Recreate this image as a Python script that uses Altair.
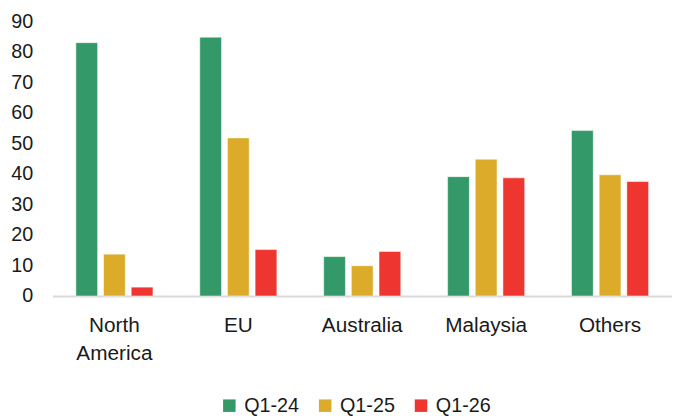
import altair as alt
import pandas as pd

regions = ["North America", "EU", "Australia", "Malaysia", "Others"]
series = ["Q1-24", "Q1-25", "Q1-26"]
q1_24 = [83.0, 84.8, 12.9, 39.1, 54.2]
q1_25 = [13.7, 51.8, 9.9, 44.8, 39.7]
q1_26 = [2.9, 15.2, 14.6, 38.7, 37.5]
colors = ["#349968", "#DBAB29", "#EE3530"]
y_ticks = [0, 10, 20, 30, 40, 50, 60, 70, 80, 90]

rows = []
for vals, s in zip([q1_24, q1_25, q1_26], series):
    for r, v in zip(regions, vals):
        rows.append({"Region": r, "Series": s, "Value": v})
df = pd.DataFrame(rows)

FONT = "Liberation Sans"

chart = alt.Chart(df).mark_bar(
    stroke="white", strokeWidth=1, strokeOpacity=0.5
).encode(
    x=alt.X("Region:N", sort=regions, title=None,
            scale=alt.Scale(paddingInner=0, paddingOuter=0),
            axis=alt.Axis(labelAngle=0, ticks=False, domainColor="#d9d9d9",
                          domainWidth=2, labelFontSize=21, labelFont=FONT,
                          labelColor="#1a1a1a", labelPadding=19,
                          labelLineHeight=28,
                          labelExpr="split(datum.label, ' ')")),
    xOffset=alt.XOffset("Series:N", sort=series,
                        scale=alt.Scale(paddingInner=0.214, paddingOuter=0.846)),
    y=alt.Y("Value:Q", title=None,
            scale=alt.Scale(domain=[0, 90], nice=False),
            axis=alt.Axis(values=y_ticks, ticks=False, domain=False, grid=False,
                          labelFontSize=20, labelFont=FONT, labelColor="#1a1a1a",
                          labelPadding=20)),
    color=alt.Color("Series:N", sort=series,
                    scale=alt.Scale(domain=series, range=colors),
                    legend=alt.Legend(title=None, orient="none", direction="horizontal",
                                      legendX=169, legendY=379, padding=0,
                                      symbolType="square", symbolSize=160,
                                      symbolStrokeWidth=0, labelFontSize=20,
                                      labelFont=FONT, labelColor="#1a1a1a",
                                      labelOffset=5, columnPadding=16)),
).properties(
    width=627, height=278,
    autosize=alt.AutoSizeParams(type="none"),
    padding={"left": 45, "top": 11, "right": 0, "bottom": 119},
).configure_view(stroke=None)

chart.save("out.html", embed_options={"renderer": "svg", "actions": False})
